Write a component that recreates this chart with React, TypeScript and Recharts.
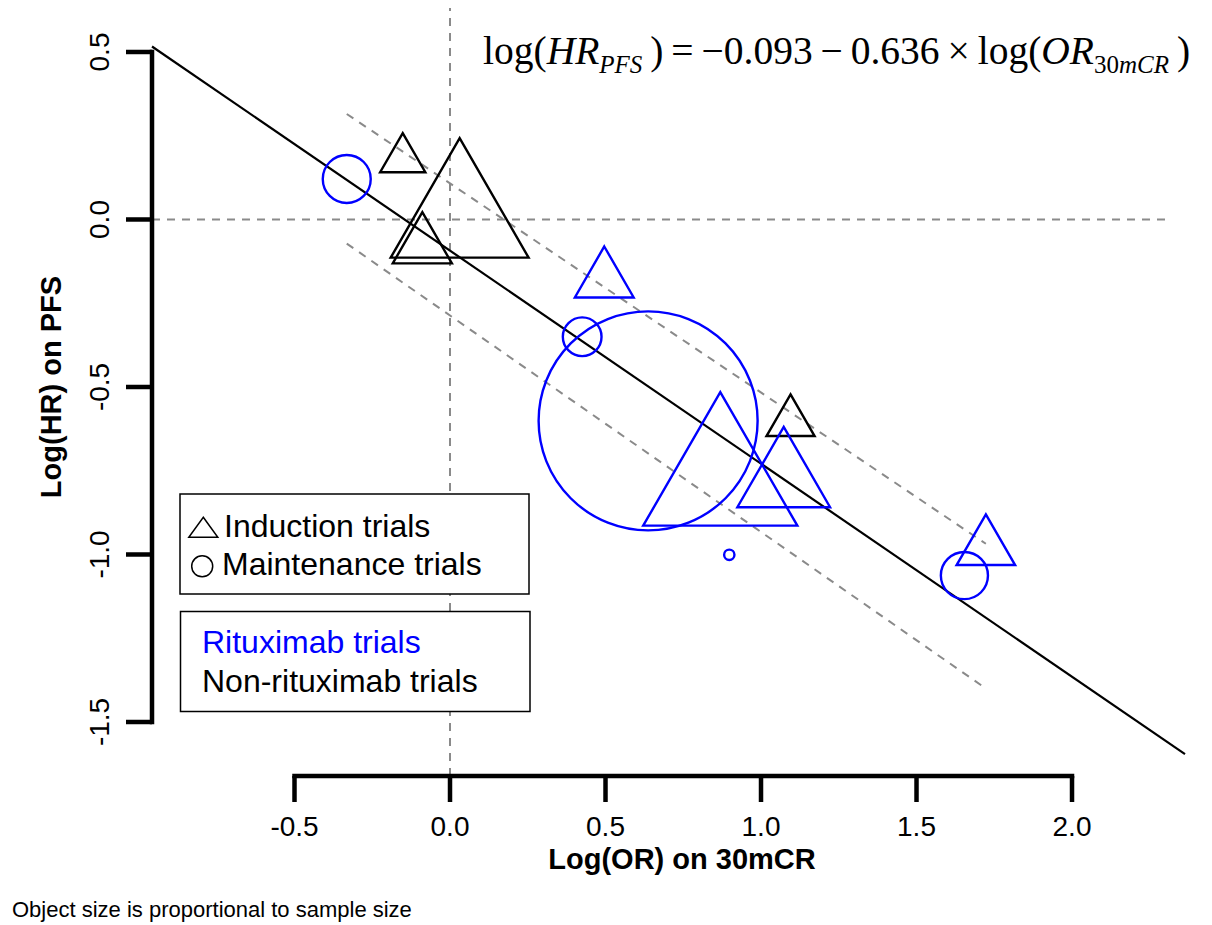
import React from 'react';
import { ScatterChart, Scatter, XAxis, YAxis, ReferenceLine } from 'recharts';

// ---------------- data ----------------
const trialLogOR = [-0.152, 0.031, -0.089, 1.095, -0.332, 0.496, 0.425, 0.637, 0.869, 1.073, 0.898, 1.654, 1.723];
const trialLogHR = [0.18, 0.005, -0.08, -0.605, 0.121, -0.182, -0.35, -0.601, -0.781, -0.779, -1.001, -1.063, -0.981];
const trialSampleSize = [156, 476, 204, 166, 223, 203, 180, 1018, 532, 320, 48, 219, 202];
const trialSetting = [
  'Induction', 'Induction', 'Induction', 'Induction', 'Maintenance', 'Induction', 'Maintenance',
  'Maintenance', 'Induction', 'Induction', 'Maintenance', 'Maintenance', 'Induction',
];
const trialRituximab = [false, false, false, false, true, true, true, true, true, true, true, true, true];

const INTERCEPT = -0.093;
const SLOPE = -0.636;

const bandX = [-0.332, 1.723];
const bandUpper = [0.315, -0.968];
const bandLower = [-0.072, -1.4];

const X_TICKS = [-0.5, 0, 0.5, 1, 1.5, 2];
const Y_TICKS = [-1.5, -1, -0.5, 0, 0.5];
const X_DOMAIN: [number, number] = [-0.9582, 2.3633];
const Y_DOMAIN: [number, number] = [-1.6612, 0.6313];
const ZERO_LINE_END = 2.32;

const trials = trialLogOR.map((x, i) => ({
  logOR: x,
  logHR: trialLogHR[i],
  sampleSize: trialSampleSize[i],
  setting: trialSetting[i],
  rituximab: trialRituximab[i],
}));

// ---------------- styles ----------------
const SANS = '"Liberation Sans", Arial, Helvetica, sans-serif';
const SERIF = '"Liberation Serif", "Times New Roman", serif';
const BLUE = '#0000ff';
const GREY = '#8a8a8a';
const PX_PER_SUBJECT = 109.5 / 1018;
const TICK_FONT = 28;

function TrialMarker(props: any) {
  const { cx, cy, payload } = props;
  if (cx == null || cy == null) return null;
  const r = payload.sampleSize * PX_PER_SUBJECT;
  const color = payload.rituximab ? BLUE : '#000';
  if (payload.setting === 'Maintenance') {
    return <circle cx={cx} cy={cy} r={r} fill="none" stroke={color} strokeWidth={2.4} />;
  }
  const pts = `${cx},${cy - 1.555 * r} ${cx + 1.347 * r},${cy + 0.778 * r} ${cx - 1.347 * r},${cy + 0.778 * r}`;
  return <polygon points={pts} fill="none" stroke={color} strokeWidth={2.4} strokeLinejoin="miter" />;
}

function XTick(props: any) {
  const { x, y, payload } = props;
  return (
    <text x={x} y={y} dy={TICK_FONT * 0.72} textAnchor="middle" fontFamily={SANS} fontSize={TICK_FONT} fill="#000">
      {Number(payload.value).toFixed(1)}
    </text>
  );
}

function YTick(props: any) {
  const { x, y, payload } = props;
  return (
    <text
      x={x}
      y={y}
      transform={`rotate(-90, ${x}, ${y})`}
      textAnchor="middle"
      fontFamily={SANS}
      fontSize={TICK_FONT}
      fill="#000"
    >
      {Number(payload.value).toFixed(1)}
    </text>
  );
}

const regStart = { x: X_DOMAIN[0], y: INTERCEPT + SLOPE * X_DOMAIN[0] };
const regEnd = { x: X_DOMAIN[1], y: INTERCEPT + SLOPE * X_DOMAIN[1] };

export default function App() {
  return (
    <div style={{ position: 'absolute', left: 0, top: 0, width: 1212, height: 925, background: '#fff' }}>
      <ScatterChart width={1212} height={925} margin={{ top: 8, left: 52, right: 27, bottom: 89 }}>
        <XAxis
          type="number"
          dataKey="logOR"
          domain={X_DOMAIN}
          ticks={X_TICKS}
          allowDataOverflow
          interval={0}
          height={60}
          axisLine={false}
          tickSize={26}
          tickMargin={14}
          tickLine={{ stroke: '#000', strokeWidth: 4.5 }}
          tick={<XTick />}
        />
        <YAxis
          type="number"
          dataKey="logHR"
          domain={Y_DOMAIN}
          ticks={Y_TICKS}
          allowDataOverflow
          interval={0}
          width={100}
          axisLine={false}
          tickSize={26}
          tickMargin={17}
          tickLine={{ stroke: '#000', strokeWidth: 4.5 }}
          tick={<YTick />}
        />
        <ReferenceLine
          segment={[{ x: X_DOMAIN[0], y: 0 }, { x: ZERO_LINE_END, y: 0 }]}
          stroke={GREY}
          strokeWidth={2}
          strokeDasharray="8 7"
        />
        <ReferenceLine x={0} stroke={GREY} strokeWidth={2} strokeDasharray="8 7" />
        <ReferenceLine
          segment={[{ x: bandX[0], y: bandUpper[0] }, { x: bandX[1], y: bandUpper[1] }]}
          stroke={GREY}
          strokeWidth={2}
          strokeDasharray="8 7"
        />
        <ReferenceLine
          segment={[{ x: bandX[0], y: bandLower[0] }, { x: bandX[1], y: bandLower[1] }]}
          stroke={GREY}
          strokeWidth={2}
          strokeDasharray="8 7"
        />
        <ReferenceLine segment={[regStart, regEnd]} stroke="#000" strokeWidth={2.2} ifOverflow="visible" />
        <ReferenceLine
          segment={[{ x: X_TICKS[0], y: Y_DOMAIN[0] }, { x: X_TICKS[X_TICKS.length - 1], y: Y_DOMAIN[0] }]}
          stroke="#000"
          strokeWidth={4.5}
          strokeLinecap="square"
          ifOverflow="visible"
        />
        <ReferenceLine
          segment={[{ x: X_DOMAIN[0], y: Y_TICKS[0] }, { x: X_DOMAIN[0], y: Y_TICKS[Y_TICKS.length - 1] }]}
          stroke="#000"
          strokeWidth={4.5}
          strokeLinecap="square"
          ifOverflow="visible"
        />
        <Scatter data={trials} dataKey="logHR" shape={<TrialMarker />} isAnimationActive={false} />
      </ScatterChart>

      <svg
        width={1212}
        height={925}
        style={{ position: 'absolute', left: 0, top: 0, pointerEvents: 'none' }}
      >
        {/* formula */}
        <text x={483} y={64} fontFamily={SERIF} fontSize={39.5} fill="#000">
          <tspan>log(</tspan>
          <tspan fontStyle="italic">HR</tspan>
          <tspan fontStyle="italic" fontSize={25} dy={9}>PFS</tspan>
          <tspan dy={-9}>{'\u2009)\u2009=\u2009\u22120.093\u2009\u2212\u20090.636\u2009\u00d7\u2009log('}</tspan>
          <tspan fontStyle="italic">OR</tspan>
          <tspan fontSize={25} dy={9}>30</tspan>
          <tspan fontSize={25} fontStyle="italic">mCR</tspan>
          <tspan dy={-9}>{'\u2009)'}</tspan>
        </text>

        {/* axis titles */}
        <text x={682} y={869} textAnchor="middle" fontFamily={SANS} fontWeight="bold" fontSize={29} fill="#000">
          Log(OR) on 30mCR
        </text>
        <text
          x={61}
          y={387}
          transform="rotate(-90, 61, 387)"
          textAnchor="middle"
          fontFamily={SANS}
          fontWeight="bold"
          fontSize={29}
          fill="#000"
        >
          Log(HR) on PFS
        </text>

        {/* legend 1 */}
        <rect x={180} y={494} width={349} height={100} fill="#fff" stroke="#000" strokeWidth={1.5} />
        <polygon points="203.3,517.3 217.8,537.3 188.8,537.3" fill="none" stroke="#000" strokeWidth={1.5} />
        <circle cx={202.2} cy={566.3} r={10.5} fill="none" stroke="#000" strokeWidth={1.5} />
        <text x={224} y={537} fontFamily={SANS} fontSize={32} fill="#000">Induction trials</text>
        <text x={222} y={575} fontFamily={SANS} fontSize={32} fill="#000">Maintenance trials</text>

        {/* legend 2 */}
        <rect x={180.5} y={611.5} width={349.5} height={100} fill="#fff" stroke="#000" strokeWidth={1.5} />
        <text x={202} y={653} fontFamily={SANS} fontSize={32} fill={BLUE}>Rituximab trials</text>
        <text x={202} y={692} fontFamily={SANS} fontSize={32} fill="#000">Non-rituximab trials</text>

        {/* footer */}
        <text x={12} y={917} fontFamily={SANS} fontSize={22} fill="#000">
          Object size is proportional to sample size
        </text>
      </svg>
    </div>
  );
}
